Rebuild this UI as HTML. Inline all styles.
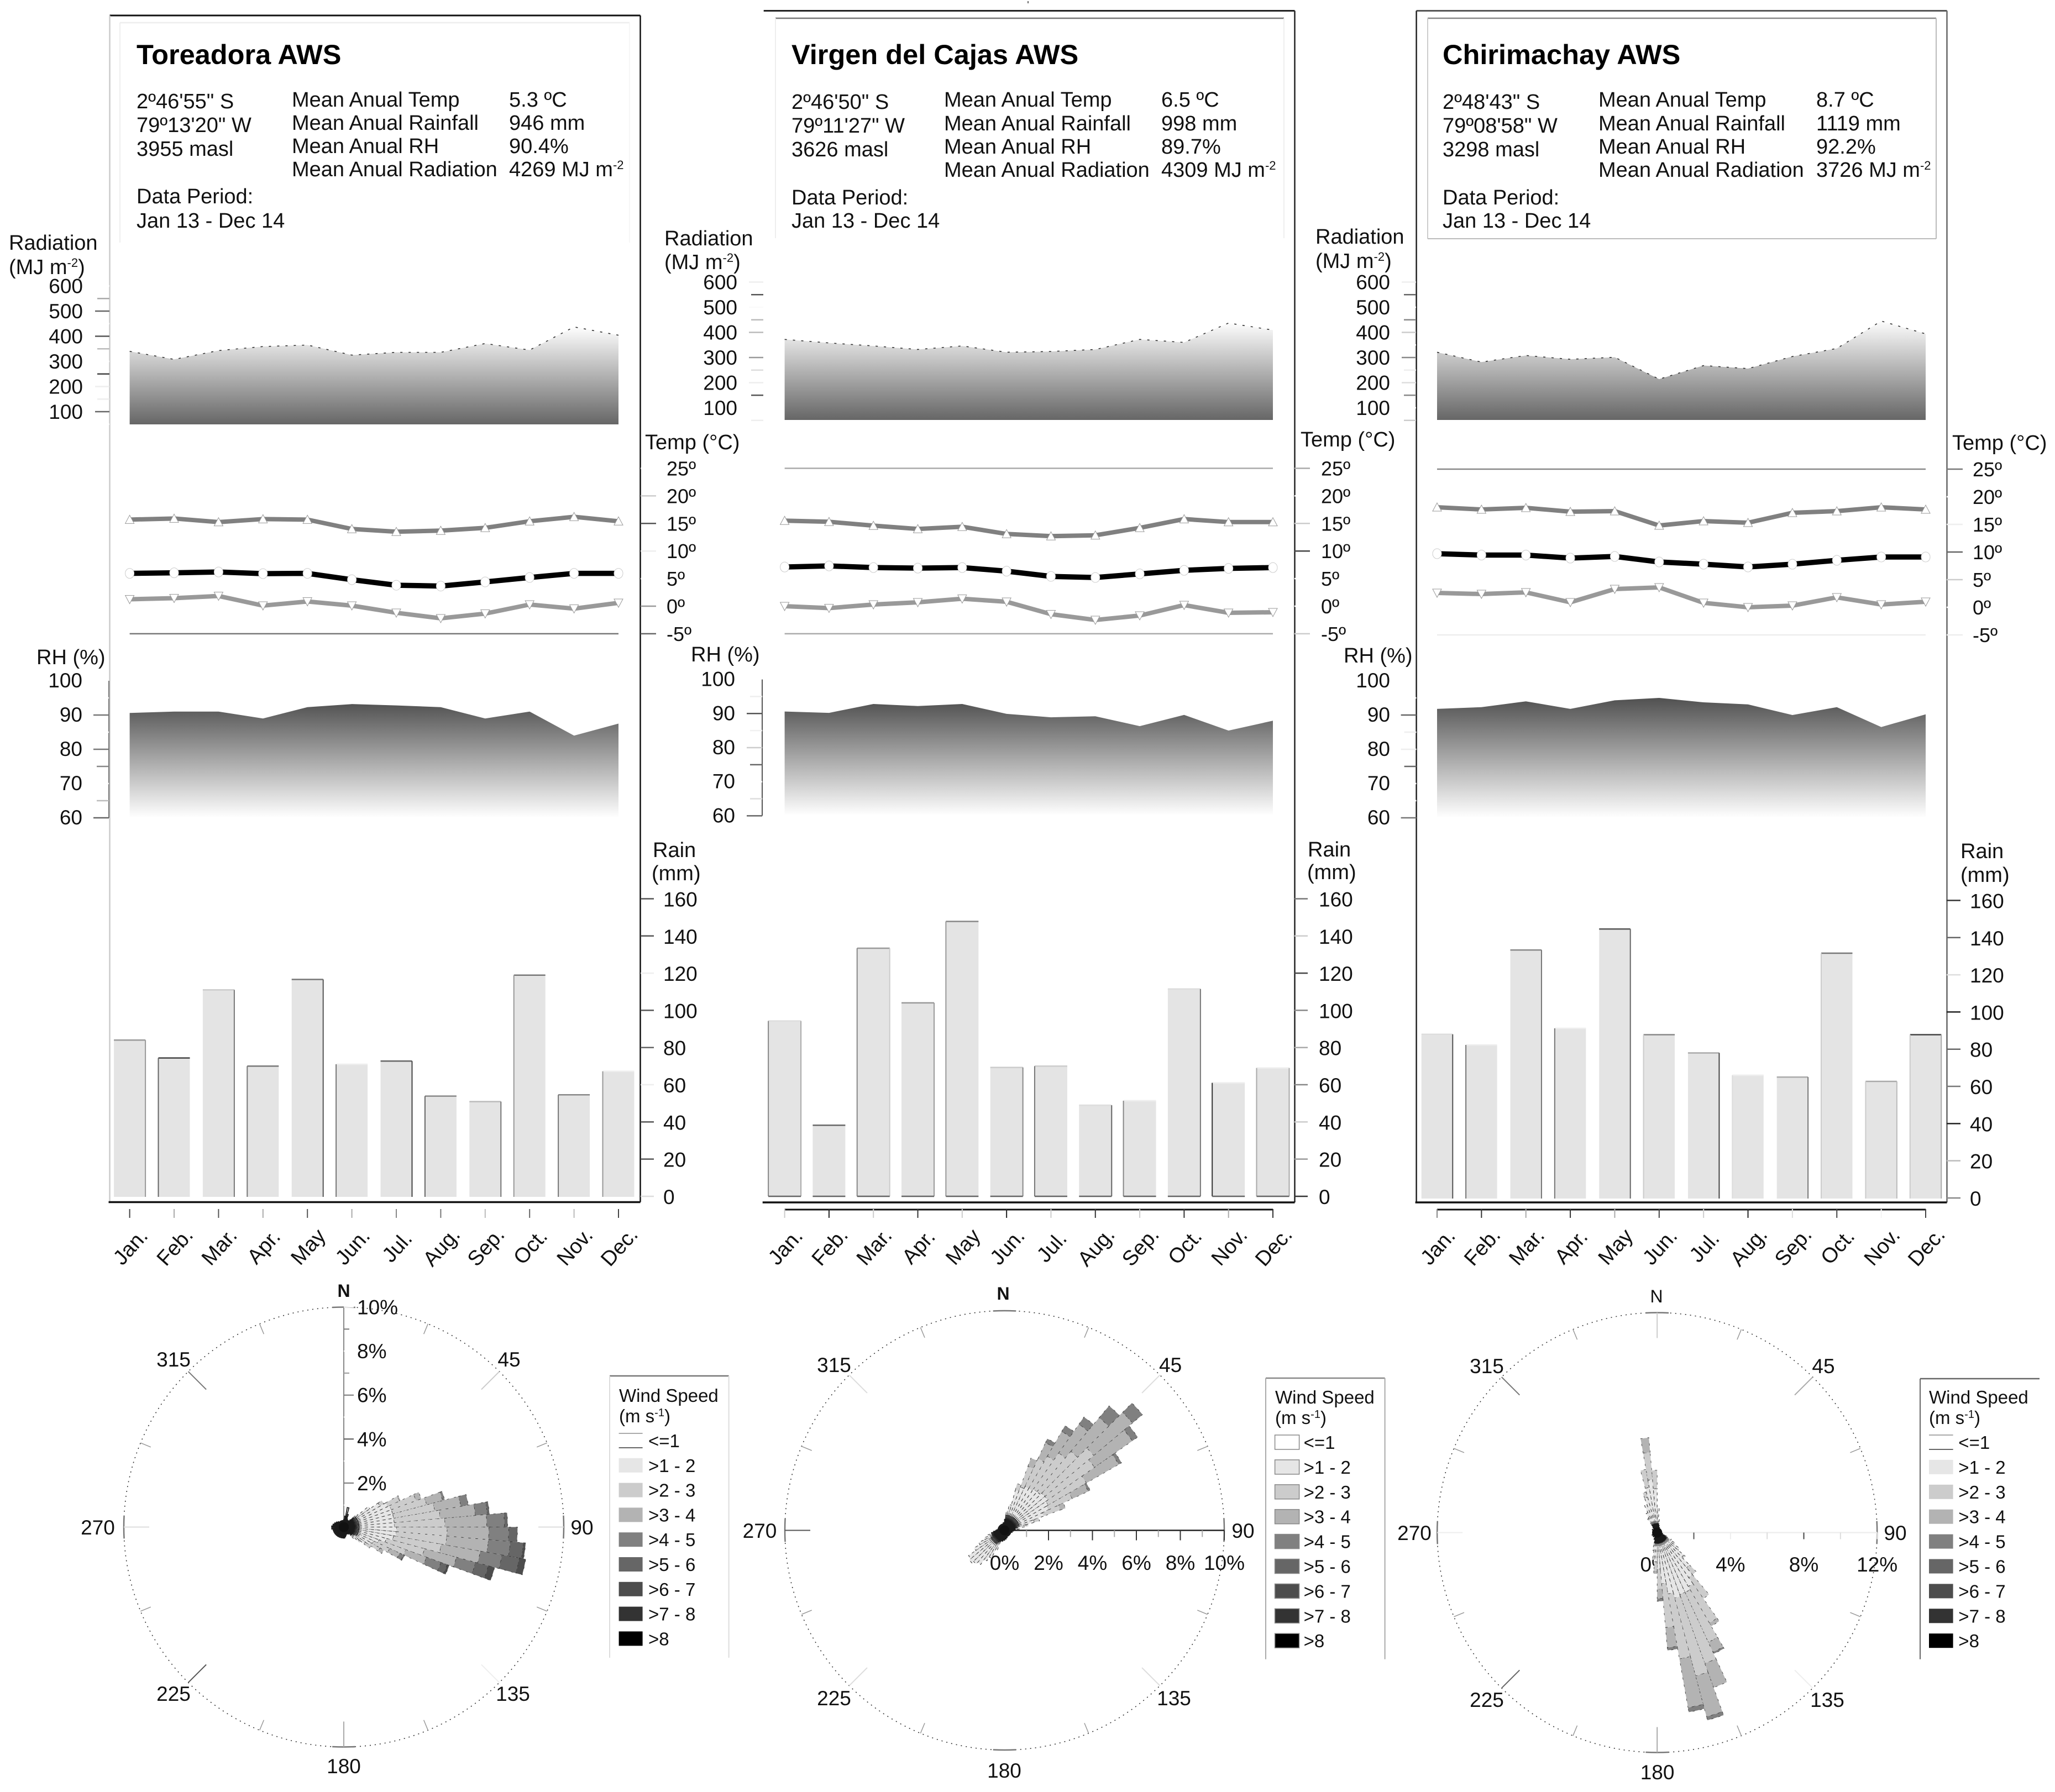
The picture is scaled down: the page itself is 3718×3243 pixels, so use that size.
<!DOCTYPE html>
<html lang="en">
<head>
<meta charset="utf-8">
<title>AWS climate summary</title>
<style>
html,body{margin:0;padding:0;background:#fff;}
svg{display:block;}
text{font-family:"Liberation Sans",sans-serif;fill:#111;font-size:38px;}
.title{font-size:50.5px;font-weight:bold;fill:#000;}
</style>
</head>
<body>
<svg id="chart" xmlns="http://www.w3.org/2000/svg" width="3718" height="3243" viewBox="0 0 3718 3243">
<defs>
<linearGradient id="rad0" gradientUnits="userSpaceOnUse" x1="0" x2="0" y1="590" y2="768"><stop offset="0" stop-color="#fff"/><stop offset="1" stop-color="#666"/></linearGradient>
<linearGradient id="rad1" gradientUnits="userSpaceOnUse" x1="0" x2="0" y1="582" y2="760"><stop offset="0" stop-color="#fff"/><stop offset="1" stop-color="#666"/></linearGradient>
<linearGradient id="rad2" gradientUnits="userSpaceOnUse" x1="0" x2="0" y1="578" y2="760"><stop offset="0" stop-color="#fff"/><stop offset="1" stop-color="#666"/></linearGradient>
<linearGradient id="rh0" gradientUnits="userSpaceOnUse" x1="0" x2="0" y1="1270" y2="1480"><stop offset="0" stop-color="#505050"/><stop offset="1" stop-color="#fff"/></linearGradient>
<linearGradient id="rh1" gradientUnits="userSpaceOnUse" x1="0" x2="0" y1="1268" y2="1476"><stop offset="0" stop-color="#505050"/><stop offset="1" stop-color="#fff"/></linearGradient>
<linearGradient id="rh2" gradientUnits="userSpaceOnUse" x1="0" x2="0" y1="1262" y2="1480"><stop offset="0" stop-color="#505050"/><stop offset="1" stop-color="#fff"/></linearGradient>
</defs>
<rect width="3718" height="3243" fill="#fff"/>

<g>
<text class="title" x="247" y="116">Toreadora AWS</text>
<text x="247" y="196">2º46'55" S</text>
<text x="247" y="239">79º13'20" W</text>
<text x="247" y="282">3955 masl</text>
<text x="528" y="193">Mean Anual Temp</text>
<text x="528" y="235">Mean Anual Rainfall</text>
<text x="528" y="277">Mean Anual RH</text>
<text x="528" y="319">Mean Anual Radiation</text>
<text x="921" y="193">5.3 ºC</text>
<text x="921" y="235">946 mm</text>
<text x="921" y="277">90.4%</text>
<text x="921" y="319">4269 MJ m<tspan dy="-13" font-size="22">-2</tspan></text>
<text x="247" y="368">Data Period:</text>
<text x="247" y="412">Jan 13 - Dec 14</text>
<text x="16" y="452">Radiation</text>
<text x="16" y="496">(MJ m<tspan dy="-13" font-size="22">-2</tspan><tspan dy="13">)</tspan></text>
<text x="1167" y="813">Temp (°C)</text>
<text x="66" y="1202">RH (%)</text>
<text x="1181" y="1551">Rain</text>
<text x="1179" y="1593">(mm)</text>
<text x="1120" y="2537" font-size="33" style="font-size:33px">Wind Speed</text>
<text x="1120" y="2574" style="font-size:33px">(m s<tspan dy="-11" style="font-size:20px">-1</tspan><tspan dy="11">)</tspan></text>
</g>

<g>
<text class="title" x="1432" y="116">Virgen del Cajas AWS</text>
<text x="1432" y="197">2º46'50" S</text>
<text x="1432" y="240">79º11'27" W</text>
<text x="1432" y="283">3626 masl</text>
<text x="1708" y="193">Mean Anual Temp</text>
<text x="1708" y="236">Mean Anual Rainfall</text>
<text x="1708" y="278">Mean Anual RH</text>
<text x="1708" y="320">Mean Anual Radiation</text>
<text x="2101" y="193">6.5 ºC</text>
<text x="2101" y="236">998 mm</text>
<text x="2101" y="278">89.7%</text>
<text x="2101" y="320">4309 MJ m<tspan dy="-13" font-size="22">-2</tspan></text>
<text x="1432" y="370">Data Period:</text>
<text x="1432" y="412">Jan 13 - Dec 14</text>
<text x="1202" y="444">Radiation</text>
<text x="1202" y="487">(MJ m<tspan dy="-13" font-size="22">-2</tspan><tspan dy="13">)</tspan></text>
<text x="2353" y="808">Temp (°C)</text>
<text x="1250" y="1197">RH (%)</text>
<text x="2366" y="1550">Rain</text>
<text x="2365" y="1591">(mm)</text>
<text x="2307" y="2540" style="font-size:33px">Wind Speed</text>
<text x="2307" y="2577" style="font-size:33px">(m s<tspan dy="-11" style="font-size:20px">-1</tspan><tspan dy="11">)</tspan></text>
</g>

<g>
<text class="title" x="2610" y="116">Chirimachay AWS</text>
<text x="2610" y="197">2º48'43" S</text>
<text x="2610" y="240">79º08'58" W</text>
<text x="2610" y="283">3298 masl</text>
<text x="2892" y="193">Mean Anual Temp</text>
<text x="2892" y="236">Mean Anual Rainfall</text>
<text x="2892" y="278">Mean Anual RH</text>
<text x="2892" y="320">Mean Anual Radiation</text>
<text x="3286" y="193">8.7 ºC</text>
<text x="3286" y="236">1119 mm</text>
<text x="3286" y="278">92.2%</text>
<text x="3286" y="320">3726 MJ m<tspan dy="-13" font-size="22">-2</tspan></text>
<text x="2610" y="370">Data Period:</text>
<text x="2610" y="412">Jan 13 - Dec 14</text>
<text x="2380" y="441">Radiation</text>
<text x="2380" y="485">(MJ m<tspan dy="-13" font-size="22">-2</tspan><tspan dy="13">)</tspan></text>
<text x="3532" y="814">Temp (°C)</text>
<text x="2431" y="1199">RH (%)</text>
<text x="3547" y="1553">Rain</text>
<text x="3547" y="1596">(mm)</text>
<text x="3490" y="2540" style="font-size:33px">Wind Speed</text>
<text x="3490" y="2577" style="font-size:33px">(m s<tspan dy="-11" style="font-size:20px">-1</tspan><tspan dy="11">)</tspan></text>
</g>
<g id="marks"></g>
</svg>

<script>
// ---- shared categories and tick labels ----
const months = ['Jan.','Feb.','Mar.','Apr.','May','Jun.','Jul.','Aug.','Sep.','Oct.','Nov.','Dec.'];
const radiationTickValues = [600,550,500,450,400,350,300,250,200,150,100,50];
const radiationTickLabels = [100,200,300,400,500,600];
const tempTickValues = [25,20,15,10,5,0,-5];
const tempTickLabels = ['25º','20º','15º','10º','5º','0º','-5º'];
const rhTickValues = [95,90,85,80,75,70,65,60];
const rhTickLabels = [100,90,80,70,60];
const rainTickValues = [160,140,120,100,80,60,40,20,0];
const speedClasses = ['<=1','>1 - 2','>2 - 3','>3 - 4','>4 - 5','>5 - 6','>6 - 7','>7 - 8','>8'];

// ---- Toreadora ----
const radiationToreadora = [340,308,343,359,365,325,336,336,371,345,437,404];
const tempMaxToreadora = [15.7,15.9,15.25,15.8,15.7,14,13.5,13.7,14.2,15.4,16.2,15.4];
const tempMeanToreadora = [5.95,6.05,6.2,5.9,5.95,4.8,3.8,3.65,4.4,5.2,5.95,5.95];
const tempMinToreadora = [1.25,1.45,1.85,0.1,0.85,0.1,-1.2,-2.2,-1.35,0.3,-0.45,0.6];
const rhToreadora = [90.6,91,91,89,92.3,93.2,92.8,92.3,89,91,84,87.5];
const rainToreadora = [84,74.4,111,70,116.6,71,72.7,53.9,50.9,118.9,54.6,67.2];
const windAxisToreadora = [2,4,6,8,10];
const windSectorsToreadora = [0,5,10,15,20,25,30,35,40,45,50,55,60,65,70,75,80,85,90,95,100,105,110,115,120,125,130,135,140,145,150,155,160,165,170,175,180,190,200,210,220,230,240,250,260,270,280,290,300,310,320,330,340,350];
const windSpeedsToreadora = [[.35],[.5],[.9],[.6],[.4],[.35],[.35],[.35],[.35,.1],[.6,.25],[.7,.75],[.7,1.2,.2],[.7,1.5,.6,.05],[.7,1.6,1.2,.25],[.7,1.6,1.6,.75,.1],[.7,1.6,1.9,1.2,.35],[.7,1.6,2.1,1.6,.55,.1],[.7,1.6,2.3,1.9,.8,.15],[.7,1.7,2.3,1.9,.9,.4],[.7,1.7,2.3,1.9,1,.6,.1],[.7,1.6,2.2,1.8,1,.8,.3],[.7,1.3,1.8,1.5,.9,.6,.3],[.7,1,1.3,1,.7,.3,.1],[.7,.8,.8,.5,.2,.05],[.7,.7,.5,.2],[.6,.6,.3],[.5,.4,.1],[.5,.2],[.4,.1],[.35],[.35],[.35],[.35],[.4],[.45],[.5],[.5],[.5],[.5],[.5],[.5],[.5],[.5],[.5],[.55],[.55],[.5],[.45],[.4],[.35],[.3],[.3],[.3],[.3]];

// ---- Virgen del Cajas ----
const radiationVirgen = [372,358,346,332,346,321,324,332,372,360,437,409];
const tempMaxVirgen = [15.5,15.3,14.6,14,14.4,13.1,12.7,12.85,14.2,15.8,15.25,15.25];
const tempMeanVirgen = [7.1,7.3,7,6.9,7,6.35,5.4,5.2,5.85,6.5,6.85,7];
const tempMinVirgen = [0,-0.35,0.3,0.7,1.35,0.8,-1.45,-2.5,-1.7,0.2,-1.2,-1.1];
const rhVirgen = [90.6,90.2,92.8,92.2,92.8,89.9,88.9,89.2,86.3,89.6,85,87.9];
const rainVirgen = [94.3,38.2,133.4,104,147.8,69.3,70,49,51.4,111.5,61,69];
const windAxisVirgen = [0,2,4,6,8,10];
const windSectorsVirgen = [0,5,10,15,20,25,30,35,40,45,50,55,60,65,70,75,80,85,90,100,110,120,130,140,150,160,170,180,190,200,205,210,215,220,225,230,235,240,245,250,255,260,265,270,280,290,300,310,320,330,340,350];
const windSpeedsVirgen = [[.5],[.7,.2],[.7,.5],[.7,1.2,.3],[.7,1.4,1,.4],[.7,1.5,1.4,.8,.2],[.7,1.5,1.7,1.3,.3],[.7,1.6,2,1.6,.4],[.7,1.6,2.4,2,.7],[.7,1.7,2.9,2.3,.6],[.7,1.7,2.6,2.1,.3],[.7,1.6,2,1.7,.15],[.7,1.5,1.2,.8,.1],[.7,1.2,.8,.25],[.7,.7,.25],[.6,.4,.1],[.5,.2],[.45],[.4],[.35],[.3],[.3],[.3],[.3],[.3],[.35],[.4],[.45],[.5],[.55,.4],[.6,.8],[.7,.9],[.7,1.2],[.7,1.3],[.7,1.4],[.7,1.3],[.7,.9],[.7,.6],[.6,.4],[.6,.2],[.6],[.5],[.4],[.35],[.3],[.3],[.3],[.3],[.3],[.3],[.3],[.35]];

// ---- Chirimachay ----
const radiationChirimachay = [321,282,308,293,301,214,268,256,304,336,445,394];
const tempMaxChirimachay = [18.1,17.7,18,17.3,17.4,14.8,15.6,15.3,17.1,17.4,18.1,17.7];
const tempMeanChirimachay = [9.7,9.45,9.45,8.9,9.2,8.2,7.8,7.3,7.8,8.5,9.1,9.1];
const tempMinChirimachay = [2.6,2.4,2.7,0.9,3.3,3.6,0.8,0,0.3,1.8,0.5,1];
const rhChirimachay = [91.8,92.3,94,91.8,94.3,95,93.7,93.1,90,92.3,86.5,90.2];
const rainChirimachay = [88,82.3,133.3,91.2,144.6,87.8,78,66,65,131.6,62.7,87.8];
const windAxisChirimachay = [0,4,8,12];
const windSectorsChirimachay = [0,5,10,20,40,60,80,100,110,115,120,125,130,135,140,145,150,155,160,165,170,175,180,185,190,200,220,240,260,280,300,320,325,330,335,340,345,350,355];
const windSpeedsChirimachay = [[.5,.85],[.5,.25],[.4],[.3],[.25],[.25],[.25],[.3],[.4,.2],[.5,.35],[.6,.55],[.6,.9],[.6,1.3,.1],[.6,1.9,.5],[.6,2.4,1.4],[.6,2.8,2.3,.2],[.6,3,3,.6,.1],[.6,3,4,1.4],[.6,3.1,4.4,2.3,.2],[.6,2.8,3.6,2.7,.25],[.6,2.2,2.4,1.1,.15],[.6,1.4,1.1,.5,.15],[.6,1,.5,.15],[.6,.7,.2],[.6,.4],[.4],[.3],[.3],[.25],[.25],[.3],[.35],[.5,.4],[.5,.7],[.5,1.15],[.5,1.5,.3],[.5,2,1],[.5,2.4,1.5,.8],[.5,1.9,1]];

// ---- layout and styling (separate from data) ----
const speedColors = ['#ffffff','#e6e6e6','#cccccc','#b3b3b3','#808080','#666666','#4d4d4d','#333333','#000000'];
const stations = [
 {key:'toreadora',x0:234.6,x1:1119,rad:radiationToreadora,tmax:tempMaxToreadora,tmean:tempMeanToreadora,tmin:tempMinToreadora,rh:rhToreadora,rain:rainToreadora,
  frame:{l:198.5,t:28,r:1158.5,b:2175.5,top:'#111',left:'#ccc',right:'#111',bottom:'#111'},
  inner:{l:217,t:41,r:1139,b:439,top:'#eee',left:'#eee',right:'#f6f6f6',bottom:null},
  radY100:745,radBottom:768,radLabelRight:150,radTickR:198,radGrad:'url(#rad0)',
  radShades:['#fff','#aaa','#666','#fff','#555','#bbb','#fff','#444','#eee','#eee','#666','#fff'],
  t0:1097,tPer:9.98,tempTickL:1159,tempTickR:1187,tempLabelX:1206,
  tempShades:['#fff','#ccc','#555','#eee','#fff','#999','#666'],hi:null,lo:'#777',
  rh60:1480,rhPer:6.2,rhAxisX:197,rhAxis:'#777',rhLabelRight:149,rhGrad:'url(#rh0)',
  rhShades:['#fff','#777','#fff','#777','#888','#fff','#bbb','#666'],
  rain0:2165,rainPer:3.366,rainBase:2166,barW:57,rainTickL:1159,rainTickR:1183,rainLabelX:1200,
  rainShades:['#555','#555','#eee','#555','#666','#eee','#555','#555','#ddd'],
  barEdges:[['#999','','#999'],['#444','#666',''],['#ccc','','#777'],['#777','#777',''],['#777','','#555'],['#eee','#777',''],['#666','','#444'],['#888','#666',''],['#bbb','','#777'],['#777','#999',''],['#888','#777',''],['#eee','#999','']],
  monthLine:null,monthShades:['#444','#aaa','#555','#aaa','#555','#aaa','#888','#777','#bbb','#666','#bbb','#444'],
  rose:{cx:622,cy:2763.5,r:398,maxPct:10,sectors:windSectorsToreadora,speeds:windSpeedsToreadora,axis:windAxisToreadora,axisMode:'north',axisColor:'#888',
   northTicks:{1:'#fff',2:'#777',3:'#fff',4:'#555',5:'#fff',6:'#777',7:'#999',8:'#fff',9:'#777',10:'#fff'},
   spokes:{0:'#777',45:'#ccc',90:'#ddd',135:'#eee',180:'#aaa',225:'#555',270:'#ddd',315:'#777'},
   labels:[['N',622,2347,'b'],['45',921,2473],['90',1053,2777],['135',928,3078],['180',622,3209],['225',314,3078],['270',177,2777],['315',314,2473]]},
  legend:{l:1103,t:2490,r:1318.6,b:3000,top:'#777',left:'#ddd',right:'#ddd',sx:1119.6,sw:43,lx:1173,y0:2607,step:44.8,box:false}},
 {key:'virgen',x0:1419.6,x1:2303,rad:radiationVirgen,tmax:tempMaxVirgen,tmean:tempMeanVirgen,tmin:tempMinVirgen,rh:rhVirgen,rain:rainVirgen,
  frame:{l:1381.7,t:19.5,r:2342.5,b:2176,top:'#222',left:null,right:'#222',bottom:'#111'},
  inner:{l:1403,t:33,r:2323,b:431,top:'#777',left:'#eee',right:'#eee',bottom:null},
  radY100:738,radBottom:760,radLabelRight:1334,radTickR:1381,radGrad:'url(#rad1)',
  radShades:['#eee','#555','#fafafa','#bbb','#bbb','#fff','#999','#ddd','#eee','#555','#fff','#eee'],
  t0:1097,tPer:9.98,tempTickL:2342,tempTickR:2370,tempLabelX:2390,
  tempShades:['#aaa','#fff','#ccc','#444','#fff','#fff','#ccc'],hi:'#aaa',lo:'#aaa',
  rh60:1476.4,rhPer:6.17,rhAxisX:1379,rhAxis:'#555',rhLabelRight:1330,rhGrad:'url(#rh1)',
  rhShades:['#eee','#555','#f0f0f0','#ccc','#666','#fff','#ddd','#666'],
  rain0:2165,rainPer:3.366,rainBase:2165,barW:59,rainTickL:2342,rainTickR:2366,rainLabelX:2386,barBottom:'#666',
  rainShades:['#777','#ccc','#444','#888','#aaa','#888','#ccc','#999','#333'],
  barEdges:[['#ddd','#888','#aaa'],['#666','',''],['#999','#888','#ccc'],['#999','','#999'],['#888','#999',''],['#ccc','','#888'],['#ccc','#777',''],['#ddd','','#666'],['#eee','#888',''],['#ddd','','#777'],['#eee','#333',''],['#eee','#aaa','#aaa']],
  monthLine:'#111',monthShades:['#ccc','#222','#ccc','#333','#ccc','#222','#ccc','#333','#ccc','#333','#aaa','#333'],
  rose:{cx:1817.5,cy:2769.5,r:397.5,maxPct:10,sectors:windSectorsVirgen,speeds:windSpeedsVirgen,axis:windAxisVirgen,axisMode:'east',axisColor:'#222',axisLabelY:2841,
   spokes:{45:'#ddd',135:'#ddd',225:'#ddd',270:'#555',315:'#ddd'},
   labels:[['N',1815,2352,'b'],['45',2117.6,2483],['90',2249,2783],['135',2124,3086],['180',1817,3217],['225',1509,3086],['270',1374.5,2783],['315',1509,2483]]},
  legend:{l:2290,t:2494,r:2505.6,b:3002.7,top:'#888',left:'#aaa',right:'#aaa',sx:2306.6,sw:44,lx:2358.6,y0:2610,step:44.9,box:true}},
 {key:'chirimachay',x0:2600,x1:3484,rad:radiationChirimachay,tmax:tempMaxChirimachay,tmean:tempMeanChirimachay,tmin:tempMinChirimachay,rh:rhChirimachay,rain:rainChirimachay,
  frame:{l:2562.6,t:19.5,r:3522.5,b:2176,top:'#555',left:'#222',right:'#666',bottom:'#111'},
  inner:{l:2583,t:33,r:3503,b:432,top:'#888',left:'#ccc',right:'#bbb',bottom:'#bbb'},
  radY100:738,radBottom:760,radLabelRight:2515,radTickR:2562,radGrad:'url(#rad2)',
  radShades:['#eee','#666','#fff','#888','#ccc','#fff','#888','#eee','#ddd','#888','#fff','#ccc'],
  t0:1099,tPer:10,tempTickL:3522,tempTickR:3551,tempLabelX:3569,
  tempShades:['#777','#fff','#eee','#666','#ccc','#fff','#eee'],hi:'#888',lo:'#eee',
  rh60:1480,rhPer:6.2,rhAxisX:null,rhLabelRight:2515,rhGrad:'url(#rh2)',
  rhShades:['#fff','#666','#eee','#eee','#666','#fff','#fff','#777'],
  rain0:2168,rainPer:3.366,rainBase:2169,barW:56.5,rainTickL:3522,rainTickR:3547,rainLabelX:3564,
  rainShades:['#333','#666','#ddd','#222','#666','#777','#222','#bbb','#888'],
  barEdges:[['#ddd','','#555'],['#eee','#777',''],['#888','','#777'],['#eee','#777',''],['#555','','#666'],['#888','#ccc',''],['#aaa','','#444'],['#eee','#ddd',''],['#aaa','','#777'],['#777','#ccc',''],['#aaa','#ccc','#bbb'],['#444','#ccc','#aaa']],
  monthLine:'#111',monthShades:['#888','#333','#aaa','#333','#aaa','#444','#ccc','#222','#ddd','#444','#f5f5f5','#444'],
  rose:{cx:2998.2,cy:2773.5,r:398,maxPct:12,sectors:windSectorsChirimachay,speeds:windSpeedsChirimachay,axis:windAxisChirimachay,axisMode:'east',axisColor:'#eee',axisLabelY:2844,
   tickColors:{2:'#555',4:'#eee',6:'#ddd',8:'#444',10:'#ddd',12:'#ddd'},
   spokes:{0:'#ccc',45:'#aaa',90:'#eee',135:'#eee',180:'#aaa',225:'#666',270:'#eee',315:'#777'},
   labels:[['N',2997,2357,'n'],['45',3299,2485],['90',3429,2787],['135',3306,3089],['180',2998.6,3220],['225',2690,3089],['270',2559,2787],['315',2690,2485]]},
  legend:{l:3474,t:2495,r:3690,b:3002.7,top:'#666',left:'#666',right:null,sx:3490,sw:43.6,lx:3543.3,y0:2610,step:44.9,box:false}}
];

// ---- helpers ----
const NS = 'http://www.w3.org/2000/svg';
const root = document.getElementById('marks');
function make(parent, tag, attrs, text) {
  const el = document.createElementNS(NS, tag);
  for (const k in attrs) el.setAttribute(k, attrs[k]);
  if (text !== undefined) el.textContent = text;
  parent.appendChild(el);
  return el;
}
function drawLine(parent, x1, y1, x2, y2, color, w, name) {
  const el = make(parent, 'line', {x1: x1, y1: y1, x2: x2, y2: y2, stroke: color, 'stroke-width': w});
  
  
  return el;
}
function drawText(parent, x, y, str, anchor, name, size, weight) {
  const el = make(parent, 'text', {x: x, y: y, 'text-anchor': anchor || 'start'}, str);
  if (size) el.style.fontSize = size + 'px';
  if (weight) el.style.fontWeight = weight;
  
  
  return el;
}
function polar(cx, cy, r, deg) {
  const a = deg * Math.PI / 180;
  return [cx + r * Math.sin(a), cy - r * Math.cos(a)];
}

function drawStation(s) {
  const g = make(root, 'g', {});
  
  
  const xAt = i => s.x0 + (s.x1 - s.x0) * i / (months.length - 1);
  const yRad = v => s.radY100 - (v - 100) * 0.455;
  const yTemp = t => s.t0 - t * s.tPer;
  const yRh = v => s.rh60 - (v - 60) * s.rhPer;
  const yRain = v => s.rain0 - v * s.rainPer;

  // frame
  const f = s.frame;
  drawLine(g, f.l, f.t, f.r, f.t, f.top, 3, 'frame-top');
  if (f.left) drawLine(g, f.l, f.t, f.l, f.b, f.left, 2.5, 'frame-left');
  drawLine(g, f.r, f.t, f.r, f.b, f.right, 2.5, 'frame-right');
  drawLine(g, f.l - 2, f.b, f.r, f.b, f.bottom, 3.5, 'frame-bottom');
  const b = s.inner;
  drawLine(g, b.l, b.t, b.r, b.t, b.top, 2.5, 'info-box-top');
  drawLine(g, b.l, b.t, b.l, b.b, b.left, 2, 'info-box-left');
  drawLine(g, b.r, b.t, b.r, b.b, b.right, 2, 'info-box-right');
  if (b.bottom) drawLine(g, b.l, b.b, b.r, b.b, b.bottom, 2, 'info-box-bottom');

  // radiation
  radiationTickValues.forEach((v, i) => {
    drawLine(g, s.radTickR - (v % 100 === 0 ? 26 : 22), yRad(v), s.radTickR, yRad(v), s.radShades[i], 2.5, 'radiation-tick');
  });
  radiationTickLabels.forEach(v => {
    drawText(g, s.radLabelRight, yRad(v) + 13, String(v), 'end', 'radiation-tick-label', 37);
  });
  let d = 'M' + xAt(0) + ' ' + s.radBottom;
  s.rad.forEach((v, i) => { d += ' L' + xAt(i) + ' ' + yRad(v); });
  d += ' L' + xAt(11) + ' ' + s.radBottom + ' Z';
  const radArea = make(g, 'path', {d: d, fill: s.radGrad});
  
  
  const radEdge = make(g, 'polyline', {points: s.rad.map((v, i) => xAt(i) + ',' + yRad(v)).join(' '), fill: 'none', stroke: '#333', 'stroke-width': 1.6, 'stroke-dasharray': '4 11'});
  
  

  // temperature
  tempTickValues.forEach((t, i) => {
    drawLine(g, s.tempTickL, yTemp(t), s.tempTickR, yTemp(t), s.tempShades[i], 2.5, 'temp-tick');
    drawText(g, s.tempLabelX, yTemp(t) + 13, tempTickLabels[i], 'start', 'temp-tick-label', 36);
  });
  if (s.hi) drawLine(g, s.x0, yTemp(25), s.x1, yTemp(25), s.hi, 2.5, 'temp-limit-25');
  if (s.lo) drawLine(g, s.x0, yTemp(-5), s.x1, yTemp(-5), s.lo, 2.5, 'temp-limit-minus5');
  [[s.tmax, '#808080', 8, 'temp-max'], [s.tmean, '#000', 9.5, 'temp-mean'], [s.tmin, '#999', 8, 'temp-min']].forEach(cfg => {
    const line = make(g, 'polyline', {points: cfg[0].map((t, i) => xAt(i) + ',' + yTemp(t)).join(' '), fill: 'none', stroke: cfg[1], 'stroke-width': cfg[2]});
    
    
    cfg[0].forEach((t, i) => {
      const x = xAt(i), y = yTemp(t);
      let m;
      if (cfg[3] === 'temp-mean') {
        m = make(g, 'ellipse', {cx: x, cy: y, rx: 8, ry: 9, fill: '#fff', stroke: '#ccc', 'stroke-width': 1});
      } else if (cfg[3] === 'temp-max') {
        m = make(g, 'polygon', {points: (x - 8) + ',' + (y + 7) + ' ' + (x + 8) + ',' + (y + 7) + ' ' + x + ',' + (y - 8), fill: '#fff', stroke: '#999', 'stroke-width': 1});
      } else {
        m = make(g, 'polygon', {points: (x - 8) + ',' + (y - 7) + ' ' + (x + 8) + ',' + (y - 7) + ' ' + x + ',' + (y + 8), fill: '#fff', stroke: '#999', 'stroke-width': 1});
      }
      
      
    });
  });

  // relative humidity
  if (s.rhAxisX) drawLine(g, s.rhAxisX, yRh(100), s.rhAxisX, yRh(60), s.rhAxis, 2, 'rh-axis');
  const rhX = s.rhAxisX || s.frame.l;
  rhTickValues.forEach((v, i) => {
    drawLine(g, rhX - (v % 10 === 0 ? 28 : 22), yRh(v), rhX, yRh(v), s.rhShades[i], 2.5, 'rh-tick');
  });
  rhTickLabels.forEach(v => {
    drawText(g, s.rhLabelRight, yRh(v) + 12, String(v), 'end', 'rh-tick-label', 37);
  });
  let r = 'M' + xAt(0) + ' ' + yRh(60);
  s.rh.forEach((v, i) => { r += ' L' + xAt(i) + ' ' + yRh(v); });
  r += ' L' + xAt(11) + ' ' + yRh(60) + ' Z';
  const rhArea = make(g, 'path', {d: r, fill: s.rhGrad});
  
  

  // rain
  rainTickValues.forEach((v, i) => {
    drawLine(g, s.rainTickL, yRain(v), s.rainTickR, yRain(v), s.rainShades[i], 2.5, 'rain-tick');
    drawText(g, s.rainLabelX, yRain(v) + 14, String(v), 'start', 'rain-tick-label', 37);
  });
  s.rain.forEach((v, i) => {
    const x = xAt(i), w = s.barW, top = yRain(v);
    const bar = make(g, 'rect', {x: x - w / 2, y: top, width: w, height: s.rainBase - top, fill: '#e4e4e4'});
    
    
    const e = s.barEdges[i];
    if (e[0]) drawLine(g, x - w / 2, top, x + w / 2, top, e[0], 2.5, 'rain-bar-top-edge');
    if (e[1]) drawLine(g, x - w / 2, top, x - w / 2, s.rainBase, e[1], 2, 'rain-bar-left-edge');
    if (e[2]) drawLine(g, x + w / 2, top, x + w / 2, s.rainBase, e[2], 2, 'rain-bar-right-edge');
    if (s.barBottom) drawLine(g, x - w / 2, s.rainBase, x + w / 2, s.rainBase, s.barBottom, 2.5, 'rain-bar-base');
  });

  // months
  if (s.monthLine) drawLine(g, s.x0, 2189, s.x1, 2189, s.monthLine, 3, 'month-axis-line');
  months.forEach((m, i) => {
    const x = xAt(i);
    drawLine(g, x, 2188, x, 2204, s.monthShades[i], 2, 'month-tick');
    const cx = x + 1, cy = 2256;
    const t = drawText(g, cx, cy, m, 'middle', 'month-label', 38);
    t.setAttribute('dy', '0.35em');
    t.setAttribute('transform', 'rotate(-48 ' + cx + ' ' + cy + ')');
  });

  drawRose(g, s.rose);
  drawLegend(g, s.legend);
}

function drawRose(g, c) {
  const unit = c.r / c.maxPct;
  const rim = make(g, 'circle', {cx: c.cx, cy: c.cy, r: c.r, fill: 'none', stroke: '#333', 'stroke-width': 1.6, 'stroke-dasharray': '2 7'});
  
  
  [0, 90, 180, 270].forEach(deg => {
    const p1 = polar(c.cx, c.cy, c.r, deg - 3), p2 = polar(c.cx, c.cy, c.r, deg + 3);
    const arc = make(g, 'path', {d: 'M' + p1[0] + ' ' + p1[1] + ' A' + c.r + ' ' + c.r + ' 0 0 1 ' + p2[0] + ' ' + p2[1], fill: 'none', stroke: '#777', 'stroke-width': 2.5});
    
    
  });
  for (let deg = 0; deg < 360; deg += 45) {
    if (c.spokes[deg]) {
      const a = polar(c.cx, c.cy, c.r, deg), b = polar(c.cx, c.cy, c.r - 46, deg);
      drawLine(g, a[0], a[1], b[0], b[1], c.spokes[deg], 2, 'rose-spoke-' + deg);
    }
    const a2 = polar(c.cx, c.cy, c.r, deg + 22.5), b2 = polar(c.cx, c.cy, c.r - 20, deg + 22.5);
    drawLine(g, a2[0], a2[1], b2[0], b2[1], '#999', 1.5, 'rose-minor-spoke');
  }
  c.labels.forEach(l => {
    if (l[0] === 'N') drawText(g, l[1], l[2], 'N', 'middle', 'rose-north-label', 32, l[3] === 'b' ? 'bold' : 'normal');
    else drawText(g, l[1], l[2], l[0], 'middle', 'rose-direction-label', 37);
  });
  // radial axis
  const last = c.axis[c.axis.length - 1];
  if (c.axisMode === 'north') {
    drawLine(g, c.cx, c.cy, c.cx, c.cy - last * unit, c.axisColor, 2, 'rose-radial-axis');
    for (let p = 1; p <= last; p++) {
      drawLine(g, c.cx, c.cy - p * unit, c.cx + (p % 2 ? 10 : 18), c.cy - p * unit, c.northTicks[p], 2, 'rose-radial-tick');
    }
    c.axis.forEach(p => {
      drawText(g, c.cx + 24, c.cy - p * unit + 13, p + '%', 'start', 'rose-radial-label', 37);
    });
  } else {
    drawLine(g, c.cx, c.cy, c.cx + last * unit, c.cy, c.axisColor, 2.5, 'rose-radial-axis');
    const step = c.maxPct === 12 ? 2 : 1;
    for (let p = step; p <= last; p += step) {
      const col = c.tickColors ? c.tickColors[p] : (p % 2 ? '#aaa' : '#333');
      drawLine(g, c.cx + p * unit, c.cy, c.cx + p * unit, c.cy + (p % 2 || c.tickColors ? 12 : 18), col, 2, 'rose-radial-tick');
    }
    c.axis.forEach(p => {
      drawText(g, c.cx + p * unit - (p === 0 && c.maxPct === 12 ? 4 : 0), c.axisLabelY, p + '%', 'middle', 'rose-radial-label', 37);
    });
  }
  // wedges, 5 degree sectors stacked by wind-speed class
  c.sectors.forEach((start, i) => {
    let inner = 0;
    c.speeds[i].forEach((pct, k) => {
      const r0 = inner * unit, r1 = (inner + pct) * unit;
      const a0 = polar(c.cx, c.cy, r0, start), a1 = polar(c.cx, c.cy, r1, start);
      const b1 = polar(c.cx, c.cy, r1, start + 5), b0 = polar(c.cx, c.cy, r0, start + 5);
      const seg = make(g, 'path', {
        d: 'M' + a0[0] + ' ' + a0[1] + ' L' + a1[0] + ' ' + a1[1] + ' A' + r1 + ' ' + r1 + ' 0 0 1 ' + b1[0] + ' ' + b1[1] + ' L' + b0[0] + ' ' + b0[1] + ' A' + r0 + ' ' + r0 + ' 0 0 0 ' + a0[0] + ' ' + a0[1] + ' Z',
        fill: speedColors[k],
        stroke: k === 0 ? '#1a1a1a' : '#333',
        'stroke-width': k === 0 ? 1.7 : (k === 1 ? 1 : 0.8),
        'stroke-dasharray': k === 0 ? 'none' : (k === 1 ? '5 6' : '4 9')
      });
      
      
      inner += pct;
    });
  });
  const hub = make(g, 'circle', {cx: c.cx, cy: c.cy, r: 9, fill: '#111'});
  
  
}

function drawLegend(g, l) {
  drawLine(g, l.l, l.t, l.r, l.t, l.top, 2.5, 'legend-border-top');
  if (l.left) drawLine(g, l.l, l.t, l.l, l.b, l.left, 2, 'legend-border-left');
  if (l.right) drawLine(g, l.r, l.t, l.r, l.b, l.right, 2, 'legend-border-right');
  speedClasses.forEach((label, i) => {
    const y = l.y0 + i * l.step;
    const sw = make(g, 'rect', {x: l.sx, y: y - 13, width: l.sw, height: 26, fill: speedColors[i], stroke: l.box ? '#888' : 'none', 'stroke-width': 1.5});
    
    
    if (!l.box && i === 0) {
      drawLine(g, l.sx, y - 13, l.sx + l.sw, y - 13, '#aaa', 2, 'legend-swatch-top');
      drawLine(g, l.sx, y + 13, l.sx + l.sw, y + 13, '#666', 2, 'legend-swatch-bottom');
    }
    drawText(g, l.lx, y + 12, label, 'start', 'legend-entry', 33);
  });
}

stations.forEach(drawStation);
const speck = drawLine(root, 1860, 2, 1860, 6, '#333', 1.5, 'stray-mark');
</script>
</body>
</html>
